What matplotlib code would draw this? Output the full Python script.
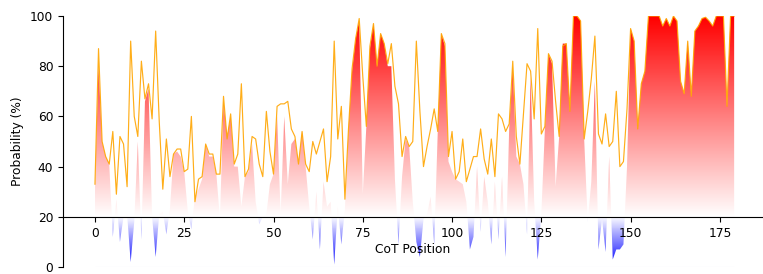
import numpy as np
import matplotlib
matplotlib.use("Agg")
import matplotlib.pyplot as plt
from matplotlib.colors import LinearSegmentedColormap

# probability per CoT position (orange line)
prob = [33, 87, 50, 44, 41, 54, 29, 52, 49, 32,
        90, 60, 52, 82, 67, 73, 59, 94, 58, 31,
        51, 36, 45, 47, 47, 38, 39, 60, 26, 35,
        36, 49, 45, 45, 37, 37, 68, 51, 61, 41,
        45, 73, 36, 39, 52, 51, 41, 36, 62, 46,
        37, 64, 65, 65, 66, 55, 52, 41, 54, 41,
        38, 50, 45, 50, 55, 34, 44, 90, 51, 64,
        27, 55, 79, 91, 99, 76, 56, 88, 97, 80,
        93, 89, 81, 89, 72, 65, 44, 52, 48, 50,
        90, 62, 40, 48, 55, 63, 54, 93, 89, 44,
        54, 35, 38, 51, 34, 39, 44, 44, 55, 43,
        37, 51, 36, 61, 59, 54, 57, 82, 52, 41,
        61, 81, 78, 59, 95, 53, 56, 85, 82, 66,
        52, 88, 89, 62, 100, 100, 98, 51, 62, 75,
        92, 53, 49, 61, 48, 50, 70, 40, 42, 63,
        95, 90, 55, 73, 78, 100, 100, 100, 100, 96,
        99, 96, 100, 98, 74, 69, 90, 68, 94, 96,
        99, 99.5, 98, 96, 100, 100, 100, 64, 100, 100]

# filled area series (gradient fill around the 20 baseline)
area = [33, 80, 50, 44, 41, 12, 27, 10, 20, 21,
        2, 18, 50, 11, 66, 71, 20, 4, 21, 22,
        13, 23, 45, 46, 44, 38, 22, 15, 28, 31,
        35, 49, 44, 44, 37, 19, 66, 52, 60, 40,
        40, 24, 36, 38, 49, 26, 17, 20, 21, 33,
        37, 60, 21, 60, 33, 49, 51, 41, 54, 40,
        24, 11, 30, 7, 34, 24, 26, 1, 24, 9,
        23, 55, 78, 91, 98, 29, 56, 87, 97, 80,
        93, 89, 80, 80, 35, 9, 36, 51, 48, 26,
        10, 4, 19, 21, 28, 9, 54, 93, 88, 42,
        38, 35, 34, 33, 26, 7, 12, 40, 14, 36,
        26, 9, 34, 11, 36, 4, 55, 80, 44, 41,
        33, 13, 76, 26, 3, 21, 55, 85, 81, 32,
        52, 89, 89, 62, 100, 100, 98, 51, 18, 34,
        74, 7, 19, 6, 44, 3, 7, 7, 9, 40,
        95, 90, 55, 73, 78, 100, 100, 100, 100, 96,
        99, 96, 100, 98, 74, 69, 90, 68, 94, 96,
        99, 99.5, 98, 96, 100, 100, 100, 64, 100, 100]

positions = np.arange(len(prob))
baseline = 20

fig = plt.figure(figsize=(7.63, 2.74), dpi=100)
ax = fig.add_axes([63 / 763, 7 / 274, 699 / 763, 251 / 274])

cmap = LinearSegmentedColormap.from_list(
    "bwr20", [(0.0, "blue"), (baseline / 100, "white"), (1.0, "red")])
poly = ax.fill_between(positions, baseline, area, facecolor="none", edgecolor="none")
grad = np.linspace(0, 100, 500).reshape(-1, 1)
im = ax.imshow(grad, extent=[positions.min(), positions.max(), 0, 100],
               origin="lower", aspect="auto", cmap=cmap, vmin=0, vmax=100, zorder=1)
im.set_clip_path(poly.get_paths()[0], transform=ax.transData)

ax.hlines(0, positions.min(), positions.max(), color="#ececf2", lw=0.8, zorder=1)
ax.plot(positions, prob, color="orange", lw=0.85, alpha=0.9, zorder=3)

ax.set_xlim(-8.95, 186.8)
ax.set_ylim(0, 100)
ax.spines["top"].set_visible(False)
ax.spines["right"].set_visible(False)
ax.spines["bottom"].set_position(("data", baseline))
ax.set_xticks(range(0, 176, 25))
ax.set_yticks(range(0, 101, 20))
ax.tick_params(labelsize=8.8)
ax.set_xlabel("CoT Position", fontsize=8.8, labelpad=2.5)
ax.set_ylabel("Probability (%)", fontsize=8.8)

fig.savefig("out.png", dpi=100)
